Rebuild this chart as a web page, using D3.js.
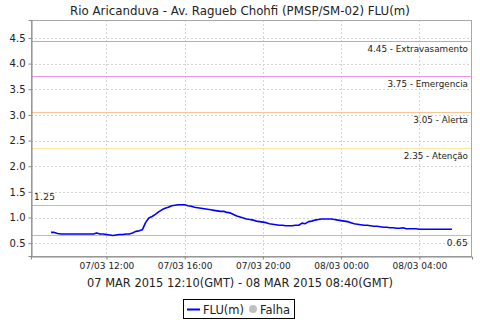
<!DOCTYPE html>
<html><head><meta charset="utf-8">
<script src="https://cdn.jsdelivr.net/npm/d3@7"></script>
<style>
html,body{margin:0;padding:0;background:#fff;}
svg{display:block;font-family:"DejaVu Sans",sans-serif;}
</style></head>
<body>
<svg id="c" width="480" height="320"></svg>
<script>
// ---- data ----
const title = "Rio Aricanduva - Av. Ragueb Chohfi (PMSP/SM-02) FLU(m)";
const xAxisLabel = "07 MAR 2015 12:10(GMT) - 08 MAR 2015 08:40(GMT)";
const seriesName = "FLU(m)";
const failName = "Falha";
const startTime = "2015-03-07T09:10"; // local time (GMT-3), 10-minute readings
const stepMinutes = 10;
const fluValues = [
  0.71,0.71,0.69,0.68,0.68,
  0.68,0.68,0.68,0.68,0.68,0.68,
  0.68,0.68,0.68,0.70,0.68,0.68,
  0.67,0.66,0.65,0.66,0.67,0.67,
  0.68,0.68,0.70,0.73,0.74,0.76,
  0.90,0.99,1.02,1.06,1.11,1.15,
  1.18,1.20,1.23,1.24,1.25,1.25,
  1.25,1.23,1.22,1.20,1.19,1.18,
  1.17,1.16,1.15,1.14,1.13,1.12,
  1.12,1.10,1.09,1.06,1.03,1.01,
  0.99,0.97,0.96,0.95,0.93,0.92,
  0.91,0.90,0.88,0.87,0.86,0.85,
  0.85,0.84,0.84,0.84,0.85,0.85,
  0.89,0.88,0.92,0.93,0.95,0.96,
  0.97,0.97,0.97,0.97,0.96,0.95,
  0.94,0.93,0.92,0.90,0.88,0.87,
  0.86,0.85,0.85,0.84,0.83,0.83,
  0.82,0.81,0.81,0.80,0.80,0.79,
  0.79,0.80,0.78,0.78,0.78,0.78,
  0.77,0.77,0.77,0.77,0.77,0.77,
  0.77,0.77,0.77,0.77,0.77
];
const thresholdValues = [4.45, 3.75, 3.05, 2.35];
const thresholdNames = ["Extravasamento", "Emergencia", "Alerta", "Atenção"];
const thresholdColors = ["#f29595", "#eb95eb", "#f7c597", "#fbe6a3"];
const maxValue = 1.25;
const minValue = 0.65;
const yTickValues = [0.5, 1.0, 1.5, 2.0, 2.5, 3.0, 3.5, 4.0, 4.5];
const xTickTimes = ["2015-03-07T12:00","2015-03-07T16:00","2015-03-07T20:00","2015-03-08T00:00","2015-03-08T04:00"];
const yDomain = [0.25, 4.85];

// ---- build ----
const parse = d3.utcParse("%Y-%m-%dT%H:%M");
const t0 = parse(startTime);
const data = fluValues.map((v, i) => ({t: d3.utcMinute.offset(t0, i * stepMinutes), v}));

const svg = d3.select("#c");
const m = {left: 31, right: 8, top: 20, bottom: 64};
const W = 480, H = 320;
const x0 = m.left, x1 = W - m.right, y0 = m.top, y1 = H - m.bottom;

const ext = d3.extent(data, d => d.t);
const span = ext[1] - ext[0];
const x = d3.scaleUtc()
  .domain([new Date(+ext[0] - span * 0.05), new Date(+ext[1] + span * 0.05)])
  .range([x0, x1]);
const y = d3.scaleLinear().domain(yDomain).range([y1, y0]);

// title
svg.append("text").attr("x", 240).attr("y", 15).attr("text-anchor", "middle")
  .attr("font-size", 11.8).attr("fill", "#222").text(title);

// gridlines
const grid = svg.append("g").attr("stroke", "#d4d4d4").attr("stroke-dasharray", "2,2").attr("stroke-width", 1);
yTickValues.forEach(v => grid.append("line").attr("x1", x0).attr("x2", x1)
  .attr("y1", Math.round(y(v)) + 0.5).attr("y2", Math.round(y(v)) + 0.5));
const xTicks = xTickTimes.map(parse);
xTicks.forEach(t => grid.append("line").attr("y1", y0).attr("y2", y1)
  .attr("x1", Math.round(x(t)) + 0.5).attr("x2", Math.round(x(t)) + 0.5));

// threshold lines
thresholdValues.forEach((v, i) => {
  const yy = Math.round(y(v)) + 0.5;
  svg.append("line").attr("x1", x0).attr("x2", x1).attr("y1", yy).attr("y2", yy)
    .attr("stroke", thresholdColors[i]).attr("stroke-width", 1.2);
  svg.append("text").attr("x", x1 - 4).attr("y", yy + 10.5).attr("text-anchor", "end")
    .attr("font-size", 8.8).attr("fill", "#222")
    .text(v.toFixed(2) + " - " + thresholdNames[i]);
});

// max/min lines
[maxValue, minValue].forEach((v, i) => {
  const yy = Math.round(y(v)) + 0.5;
  svg.append("line").attr("x1", x0).attr("x2", x1).attr("y1", yy).attr("y2", yy)
    .attr("stroke", "#bdbdbd").attr("stroke-width", 1.2);
});
svg.append("text").attr("x", x0 + 3).attr("y", Math.round(y(maxValue)) - 5)
  .attr("font-size", 9).attr("letter-spacing", 0.3).attr("fill", "#222").text(maxValue.toFixed(2));
svg.append("text").attr("x", x1 - 4).attr("y", Math.round(y(minValue)) + 11)
  .attr("text-anchor", "end").attr("font-size", 9).attr("letter-spacing", 0.3).attr("fill", "#222").text(minValue.toFixed(2));

// outline
svg.append("rect").attr("x", x0 + 0.5).attr("y", y0 + 0.5).attr("width", x1 - x0 - 1).attr("height", y1 - y0)
  .attr("fill", "none").attr("stroke", "#a8a8a8");

// axes
const yAxis = svg.append("g").attr("transform", `translate(${x0 + 0.5},0)`)
  .call(d3.axisLeft(y).tickValues(yTickValues).tickFormat(d3.format(".1f")).tickSizeOuter(0).tickSize(3).tickPadding(3));
yAxis.select(".domain").attr("stroke", "#888");
yAxis.selectAll(".tick line").attr("stroke", "#888");
yAxis.selectAll("text").attr("font-size", 10).attr("fill", "#222").attr("font-family", "DejaVu Sans");

const xAxis = svg.append("g").attr("transform", `translate(0,${y1 + 0.5})`)
  .call(d3.axisBottom(x).tickValues(xTicks).tickFormat(d3.utcFormat("%d/%m %H:%M")).tickSizeOuter(0).tickSize(3).tickPadding(3));
xAxis.select(".domain").attr("stroke", "#888");
xAxis.selectAll(".tick line").attr("stroke", "#888");
xAxis.selectAll("text").attr("font-size", 9).attr("fill", "#222").attr("font-family", "DejaVu Sans");

svg.append("text").attr("x", 240).attr("y", 287).attr("text-anchor", "middle")
  .attr("font-size", 11.4).attr("fill", "#222").text(xAxisLabel);

// series line
const line = d3.line().x(d => x(d.t)).y(d => y(d.v));
svg.append("path").datum(data).attr("d", line).attr("fill", "none")
  .attr("stroke", "#0000ff").attr("stroke-width", 1.6).attr("stroke-linejoin", "round");

// legend
const lg = svg.append("g");
lg.append("rect").attr("x", 183.5).attr("y", 299.5).attr("width", 111).attr("height", 19)
  .attr("fill", "#fff").attr("stroke", "#000");
lg.append("line").attr("x1", 187).attr("x2", 200).attr("y1", 309.5).attr("y2", 309.5)
  .attr("stroke", "#0000ff").attr("stroke-width", 2);
lg.append("text").attr("x", 203).attr("y", 314).attr("font-size", 11.5).attr("fill", "#222").text(seriesName);
lg.append("circle").attr("cx", 253).attr("cy", 309).attr("r", 4).attr("fill", "#c0c0c0");
lg.append("text").attr("x", 260).attr("y", 314).attr("font-size", 11.5).attr("fill", "#222").text(failName);
</script>
</body></html>
